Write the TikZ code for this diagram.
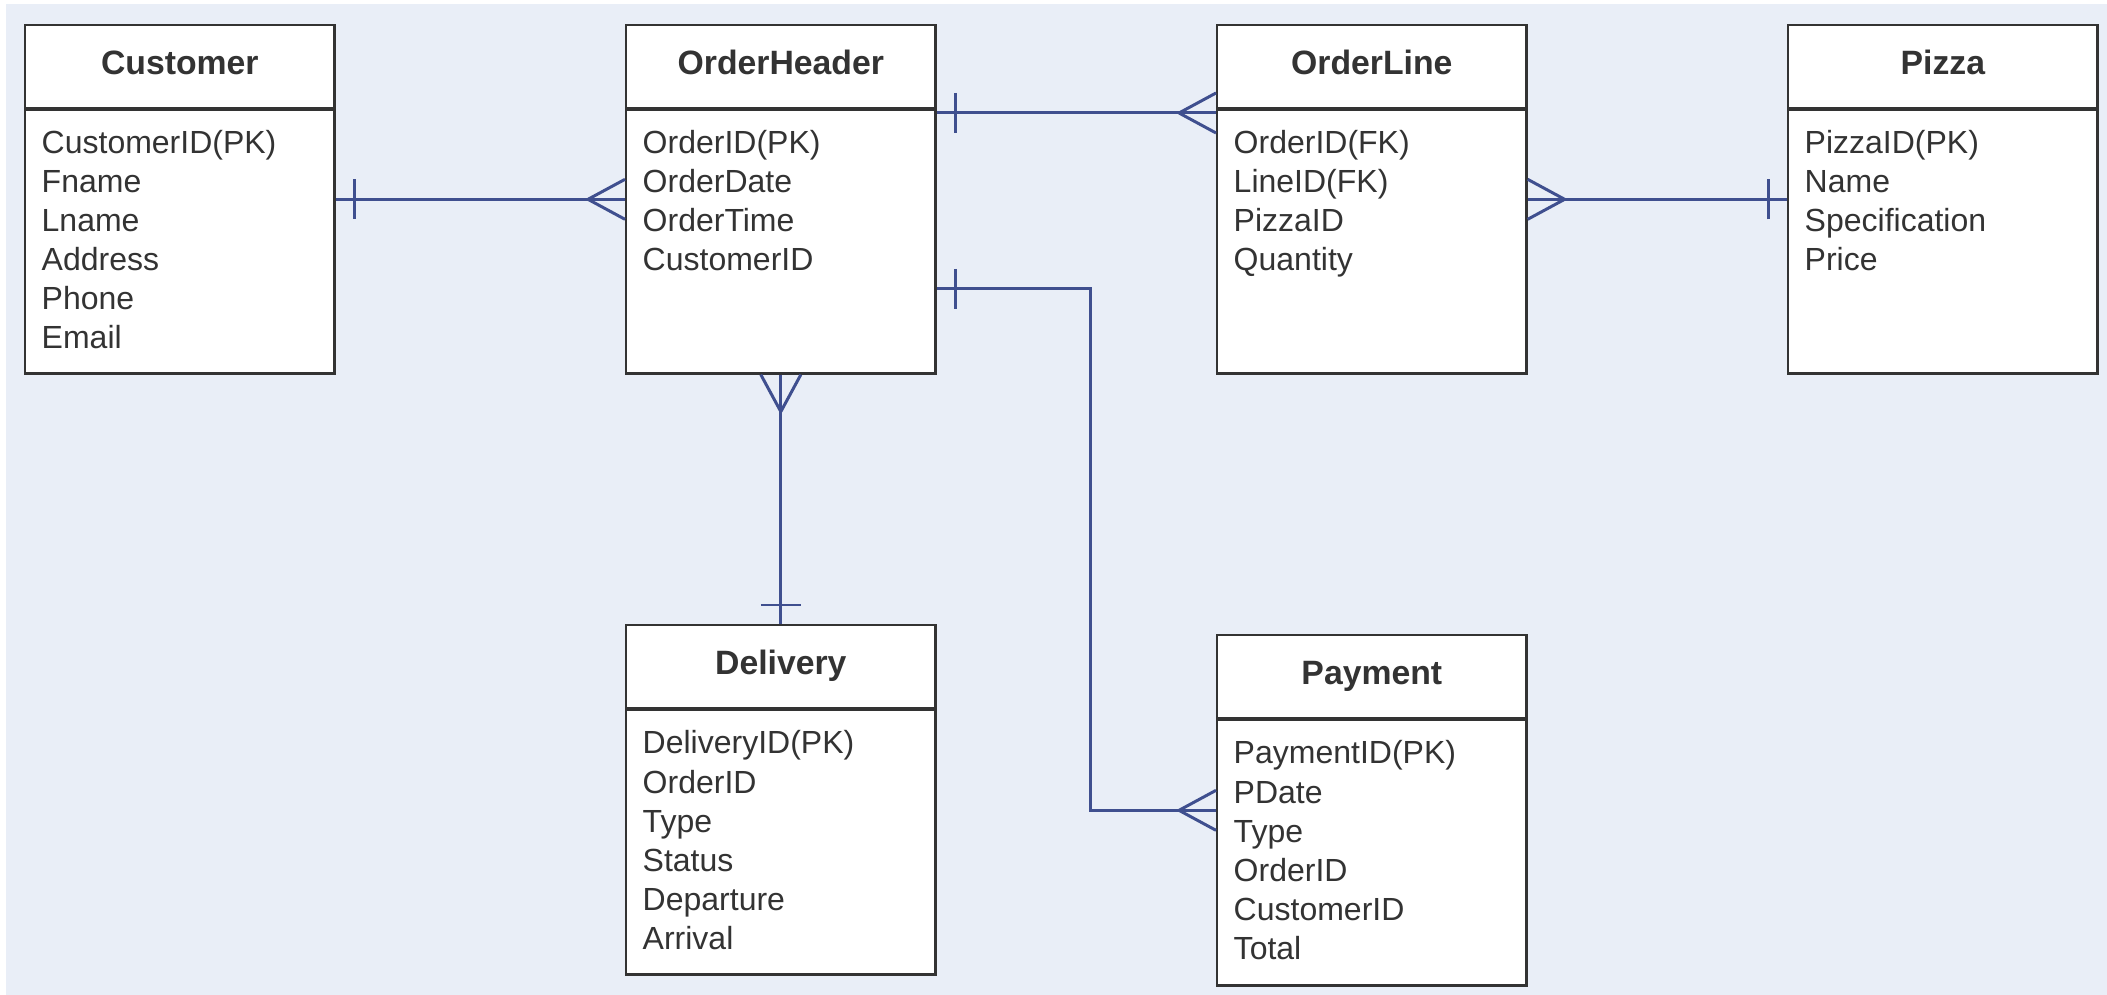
\documentclass[tikz,border=0pt]{standalone}
\usepackage{fontspec}
\setmainfont{Liberation Sans}
\usetikzlibrary{calc}

\definecolor{pagebg}{HTML}{E9EEF7}
\definecolor{relblue}{HTML}{3F4F8F}
\definecolor{inkgray}{HTML}{333333}

\tikzset{
  entbox/.style={draw=inkgray, line width=0.7pt, fill=white, anchor=north west,
    minimum width=3.09cm, inner sep=0pt},
  sepline/.style={draw=inkgray, line width=1.1pt},
  enttitle/.style={anchor=base, inner sep=0pt, text=inkgray,
    font=\fontsize{9.6}{11}\selectfont\bfseries},
  attr/.style={anchor=base west, inner sep=0pt, text=inkgray,
    font=\fontsize{9.1}{11}\selectfont},
  rel/.style={draw=relblue, line width=0.85pt},
}

% table box: name, x, y, height, title, fields
\newcommand{\entity}[6]{%
  \node[entbox, minimum height=#4] (#1) at (#2,#3) {};
  \draw[sepline] ($(#1.north west)+(0,85)$) -- ($(#1.north east)+(0,85)$);
  \node[enttitle] (#1-title) at ($(#1.north)+(0,51)$) {#5};
  \foreach \fld [count=\i] in {#6}
    \node[attr] (#1-a\i) at ($(#1.north west)+(17,91+39*\i)$) {\fld};
}
% crow's foot and bar ends
\newcommand{\manyend}[2]{%
  \begin{scope}[shift={(#1)}, rotate=#2]
    \draw[rel] (37,0) -- (0,20) (37,0) -- (0,-20);
  \end{scope}}
\newcommand{\oneend}[2]{%
  \begin{scope}[shift={(#1)}, rotate=#2]
    \draw[rel] (19,-20) -- (19,20);
  \end{scope}}

\begin{document}
\begin{tikzpicture}[x=0.01cm, y=-0.01cm]
    \fill[white] (0,0) rectangle (2107,995);
    \fill[pagebg] (6,4) rectangle (2107,995);
    \useasboundingbox (0,0) rectangle (2107,995);

    \entity{cust}{24}{24}{3.48cm}{Customer}{CustomerID(PK),Fname,Lname,Address,Phone,Email}
    \entity{ohdr}{625}{24}{3.48cm}{OrderHeader}{OrderID(PK),OrderDate,OrderTime,CustomerID}
    \entity{oline}{1216}{24}{3.48cm}{OrderLine}{OrderID(FK),LineID(FK),PizzaID,Quantity}
    \entity{pizza}{1787}{24}{3.48cm}{Pizza}{PizzaID(PK),Name,Specification,Price}
    \entity{deliv}{625}{624}{3.49cm}{Delivery}{DeliveryID(PK),OrderID,Type,Status,Departure,Arrival}
    \entity{paymt}{1216}{634}{3.50cm}{Payment}{PaymentID(PK),PDate,Type,OrderID,CustomerID,Total}

    % relationships
    \coordinate (oh-ol) at ($(ohdr.north east)+(0,89)$);
    \coordinate (ol-oh) at (oh-ol -| oline.west);
    \coordinate (oh-pay) at ($(ohdr.north east)+(0,265)$);
    \coordinate (bend) at ($(paymt.west)+(-126,0)$);

    \draw[rel] (cust.east) -- (ohdr.west);
    \oneend{cust.east}{0}
    \manyend{ohdr.west}{180}

    \draw[rel] (oh-ol) -- (ol-oh);
    \oneend{oh-ol}{0}
    \manyend{ol-oh}{180}

    \draw[rel] (oline.east) -- (pizza.west);
    \manyend{oline.east}{0}
    \oneend{pizza.west}{180}

    \draw[rel] (ohdr.south) -- (deliv.north);
    \manyend{ohdr.south}{270}
    \oneend{deliv.north}{90}

    \draw[rel] (oh-pay) -| (bend) -- (paymt.west);
    \oneend{oh-pay}{0}
    \manyend{paymt.west}{180}
\end{tikzpicture}
\end{document}
